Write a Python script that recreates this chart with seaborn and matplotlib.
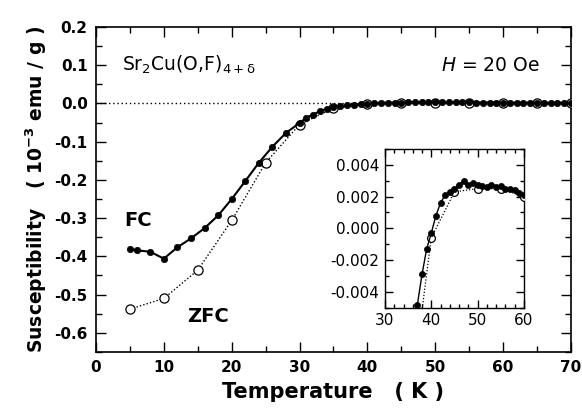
import numpy as np
import pandas as pd
import matplotlib
matplotlib.use("Agg")
import matplotlib.pyplot as plt
from matplotlib.ticker import MultipleLocator, FormatStrFormatter
import seaborn as sns

# ---- data (susceptibility in 1e-3 emu/g) ----
fc_T = [5, 6, 8, 10, 12, 14, 16, 18, 20, 22, 24, 26, 28, 30, 31, 32, 33, 34, 35,
        36, 37, 38, 39, 40, 41, 42, 43, 44, 45, 46, 47, 48, 49, 50, 51, 52, 53,
        54, 55, 56, 57, 58, 59, 60, 61, 62, 63, 64, 65, 66, 67, 68, 69, 70]
fc_chi = [-0.380, -0.384, -0.388, -0.406, -0.376, -0.353, -0.326, -0.293, -0.250,
          -0.203, -0.155, -0.113, -0.077, -0.051, -0.037, -0.029, -0.020, -0.014,
          -0.009, -0.0065, -0.0048, -0.0029, -0.0013, -0.0003, 0.0008, 0.0016,
          0.0021, 0.0023, 0.0025, 0.00275, 0.0030, 0.00275, 0.00285, 0.00275,
          0.00265, 0.0026, 0.0027, 0.0026, 0.00265, 0.0025, 0.00245, 0.0024,
          0.0022, 0.0021, 0.0021, 0.0020, 0.0020, 0.0019, 0.0019, 0.0018, 0.0018,
          0.0017, 0.0017, 0.0016]
zfc_T = [5, 10, 15, 20, 25, 30, 35, 40, 45, 50, 55, 60, 65, 70]
zfc_chi = [-0.538, -0.510, -0.436, -0.306, -0.155, -0.055, -0.012, -0.0006,
           0.0023, 0.0025, 0.0025, 0.0020, 0.0018, 0.0016]

fc = pd.DataFrame({"T": fc_T, "chi": fc_chi})
zfc = pd.DataFrame({"T": zfc_T, "chi": zfc_chi})

sns.set_style("ticks")
plt.rcParams["font.family"] = ["DejaVu Sans"]
plt.rcParams["mathtext.default"] = "regular"
plt.rcParams["axes.linewidth"] = 1.2
for k in ["text.color", "axes.labelcolor", "xtick.color", "ytick.color",
          "axes.edgecolor"]:
    plt.rcParams[k] = "black"

fig = plt.figure(figsize=(5.82, 4.16), dpi=100)
ax = fig.add_axes([0.165, 0.154, 0.816, 0.781])

ax.axhline(0, color="black", lw=1.0, ls=(0, (1, 2)), zorder=1)

def draw(axis, ms_fc, ms_zfc, lw_fc, lw_zfc):
    sns.lineplot(data=zfc, x="T", y="chi", ax=axis, sort=False, estimator=None,
                 color="black", lw=lw_zfc, linestyle=(0, (1, 1.5)), marker="o",
                 markersize=ms_zfc, markerfacecolor="white", mec="black",
                 mew=0.9, zorder=3)
    sns.lineplot(data=fc, x="T", y="chi", ax=axis, sort=False, estimator=None,
                 color="black", lw=lw_fc, linestyle="-", marker="o",
                 markersize=ms_fc, markerfacecolor="black", mec="black",
                 mew=0.5, zorder=4)

draw(ax, 4.6, 6.6, 1.5, 1.0)

ax.set_xlim(0, 70)
ax.set_ylim(-0.65, 0.2)
ax.xaxis.set_major_locator(MultipleLocator(10))
ax.xaxis.set_minor_locator(MultipleLocator(5))
ax.yaxis.set_major_locator(MultipleLocator(0.1))
ax.yaxis.set_minor_locator(MultipleLocator(0.05))
ax.yaxis.set_major_formatter(FormatStrFormatter("%.1f"))
ax.tick_params(which="both", direction="in", top=True, right=True, width=1.0)
ax.tick_params(which="major", length=7, labelsize=11, pad=6)
ax.tick_params(which="minor", length=4)
for lab in ax.get_xticklabels() + ax.get_yticklabels():
    lab.set_fontweight("bold")

ax.set_xlabel("Temperature   ( K )", fontsize=15, fontweight="bold", labelpad=5)
ax.set_ylabel("Susceptibility   ( 10$^{-3}$ emu / g )", fontsize=13.5,
              fontweight="bold", labelpad=4)

ax.text(3.8, 0.1, "Sr$_2$Cu(O,F)$_{4+\\delta}$", fontsize=13.5, va="center", ha="left")
ax.text(65.4, 0.1, "$\\mathit{H}$ = 20 Oe", fontsize=13.5, va="center", ha="right")
ax.text(4.2, -0.306, "FC", fontsize=14, fontweight="bold", va="center", ha="left")
ax.text(13.4, -0.556, "ZFC", fontsize=14, fontweight="bold", va="center", ha="left")

# ---- inset ----
axi = fig.add_axes([0.6615, 0.260, 0.2385, 0.382])
draw(axi, 4.4, 5.6, 1.0, 0.9)
axi.set_xlim(30, 60)
axi.set_ylim(-0.005, 0.005)
axi.xaxis.set_major_locator(MultipleLocator(10))
axi.xaxis.set_minor_locator(MultipleLocator(2))
axi.yaxis.set_major_locator(MultipleLocator(0.002))
axi.yaxis.set_minor_locator(MultipleLocator(0.001))
axi.yaxis.set_major_formatter(FormatStrFormatter("%.3f"))
axi.tick_params(which="both", direction="in", top=True, right=True, width=1.0)
axi.tick_params(which="major", length=6, labelsize=11, pad=4)
axi.tick_params(which="minor", length=3)
axi.set_xlabel("")
axi.set_ylabel("")
for s in axi.spines.values():
    s.set_linewidth(1.0)

fig.savefig("out.png", dpi=100)
